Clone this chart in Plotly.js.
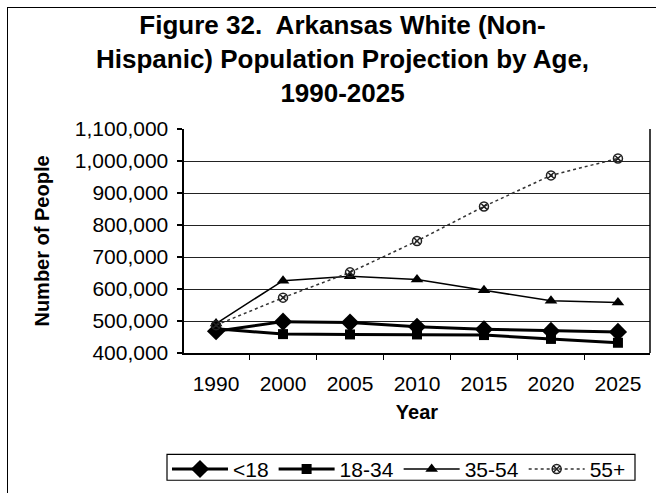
<!DOCTYPE html>
<html>
<head>
<meta charset="utf-8">
<script src="https://cdn.plot.ly/plotly-3.0.1.min.js"></script>
<style>
  html, body { margin: 0; padding: 0; background: #fff; overflow: hidden; }
  #wrap { position: relative; width: 656px; height: 493px; overflow: hidden; }
  #frame { position: absolute; left: 7px; top: 7px; width: 700px; height: 600px;
           border-left: 1.5px solid #000; border-top: 1.5px solid #000; pointer-events: none; }
  #chart { position: absolute; left: 0; top: 0; width: 656px; height: 493px; }
</style>
</head>
<body>
<div id="wrap">
  <div id="chart"></div>
  <div id="frame"></div>
</div>
<script>
// ---- data ----
const years = ['1990', '2000', '2005', '2010', '2015', '2020', '2025'];
const seriesNames = ['<18', '18-34', '35-54', '55+'];
const under18 = [468000, 498000, 495000, 482000, 474000, 469000, 466000];
const age18to34 = [476000, 459000, 458000, 458000, 456000, 444000, 432000];
const age35to54 = [492000, 626000, 640000, 630000, 596000, 563000, 558000];
const age55plus = [487000, 573000, 652000, 750000, 858000, 955000, 1008000];
const yTickVals = [400000, 500000, 600000, 700000, 800000, 900000, 1000000, 1100000];
const titleText = '<b>Figure 32.  Arkansas White (Non-<br>Hispanic) Population Projection by Age,<br>1990-2025</b>';

const F = 'Arial, "Liberation Sans", sans-serif';

const traces = [
  { x: years, y: under18, name: seriesNames[0], type: 'scatter', mode: 'lines+markers',
    line: { color: '#000', width: 3 },
    marker: { symbol: 'diamond', size: 14, color: '#000' } },
  { x: years, y: age18to34, name: seriesNames[1], type: 'scatter', mode: 'lines+markers',
    line: { color: '#000', width: 3 },
    marker: { symbol: 'square', size: 10, color: '#000' } },
  { x: years, y: age35to54, name: seriesNames[2], type: 'scatter', mode: 'lines+markers',
    line: { color: '#000', width: 1.5 },
    marker: { symbol: 'triangle-up', size: 11, color: '#000' } },
  { x: years, y: age55plus, name: seriesNames[3], type: 'scatter', mode: 'lines+markers',
    line: { color: '#333', width: 1.5, dash: 'dot' },
    marker: { symbol: 'circle-x-open', size: 9, color: '#222', line: { width: 1.5, color: '#222' } } }
];

const layout = {
  width: 656, height: 493,
  margin: { l: 184, r: 6, t: 128.5, b: 139.7, pad: 0, autoexpand: false },
  paper_bgcolor: '#fff', plot_bgcolor: '#fff',
  font: { family: F, color: '#000', size: 21 },
  annotations: [
    { text: titleText, xref: 'paper', yref: 'paper',
      x: (342 - 184) / 466, xanchor: 'center',
      y: (353.3 - 7) / 224.8, yanchor: 'top',
      showarrow: false, align: 'center',
      font: { family: F, size: 26, color: '#000' } }
  ],
  xaxis: {
    type: 'category',
    tickmode: 'array', tickvals: years, ticktext: years,
    tickson: 'boundaries',
    ticks: 'outside', ticklen: 5, tickwidth: 1.5, tickcolor: '#000',
    ticklabelstandoff: 11,
    showline: true, linecolor: '#000', linewidth: 2,
    showgrid: false, zeroline: false,
    tickfont: { family: F, size: 21, color: '#000' },
    title: { text: '<b>Year</b>', font: { family: F, size: 20, color: '#000' }, standoff: 11 }
  },
  yaxis: {
    range: [400000, 1100000],
    tickmode: 'array', tickvals: yTickVals,
    tickformat: ',d',
    ticks: 'outside', ticklen: 5, tickwidth: 1.5, tickcolor: '#000',
    ticklabelstandoff: 4,
    showline: true, linecolor: '#000', linewidth: 2.5,
    showgrid: true, gridcolor: '#222', gridwidth: 1,
    zeroline: false,
    tickfont: { family: F, size: 21, color: '#000' },
    title: { text: '<b>Number of People</b>', font: { family: F, size: 20, color: '#000' }, standoff: 20 }
  },
  shapes: [
    { type: 'line', xref: 'paper', yref: 'paper', x0: 1, x1: 1, y0: 0, y1: 1,
      line: { color: '#000', width: 1.5 } },
    { type: 'rect', xref: 'paper', yref: 'paper', layer: 'below',
      x0: (167 - 184) / 466, x1: (635 - 184) / 466,
      y0: (353.3 - 481) / 224.8, y1: (353.3 - 455) / 224.8,
      line: { color: '#000', width: 1.2 }, fillcolor: 'rgba(0,0,0,0)' }
  ],
  legend: {
    orientation: 'h',
    x: -0.0365, xanchor: 'left',
    y: (353.3 - 449.5) / 224.8, yanchor: 'top',
    borderwidth: 0,
    bgcolor: 'rgba(0,0,0,0)',
    itemwidth: 56,
    font: { family: F, size: 21, color: '#000' }
  },
  showlegend: true
};

Plotly.newPlot('chart', traces, layout, { displayModeBar: false, staticPlot: true });
</script>
</body>
</html>
